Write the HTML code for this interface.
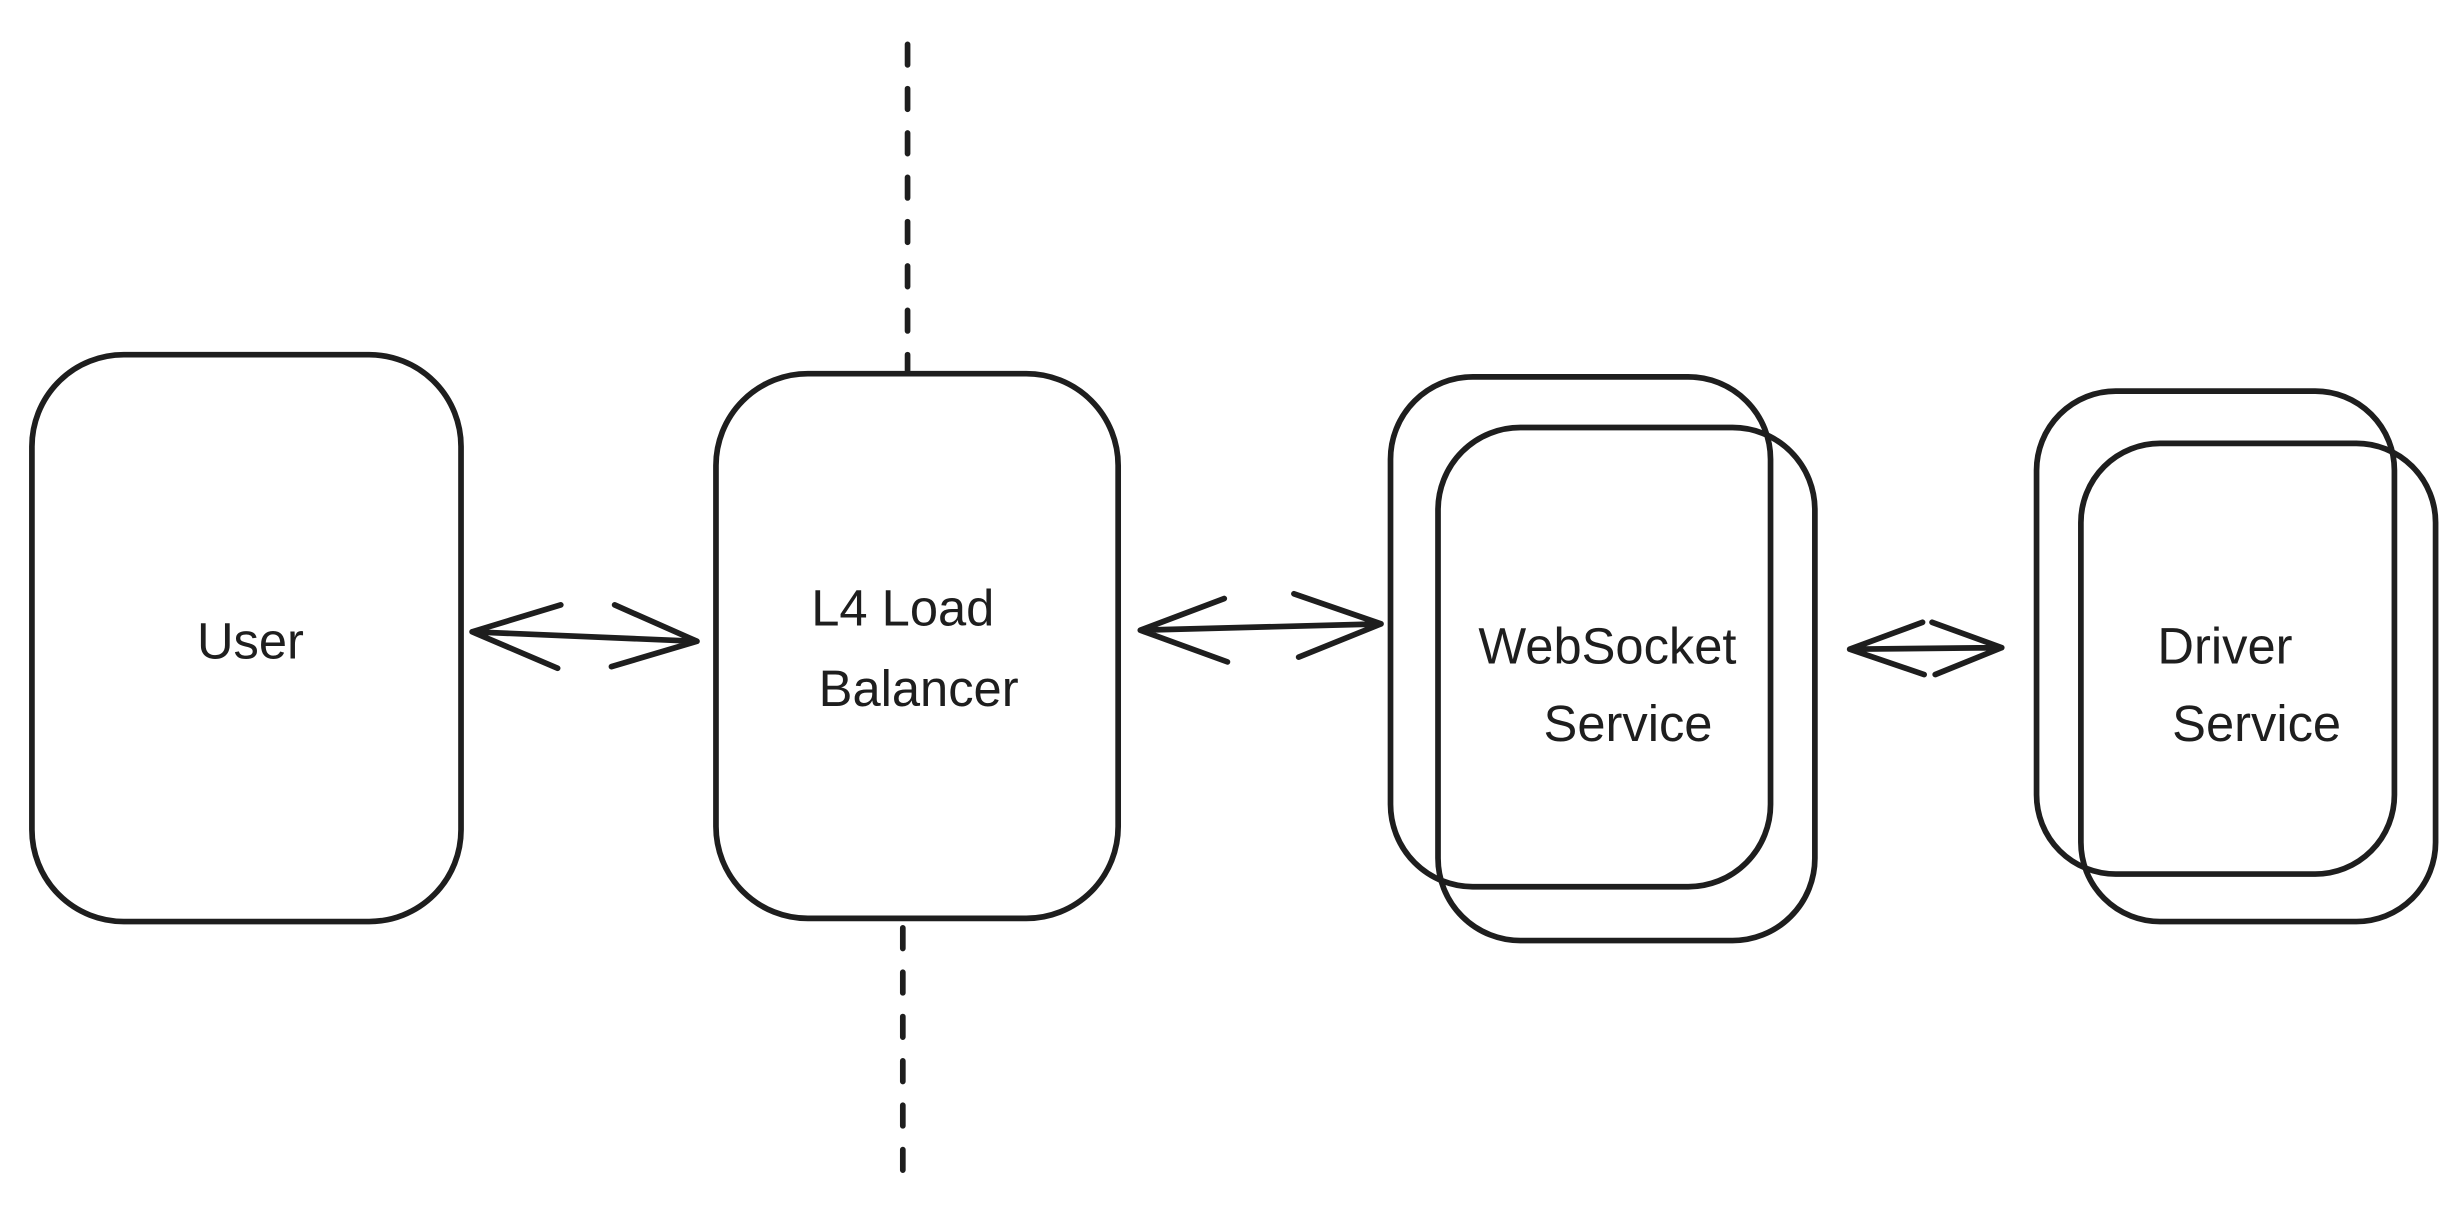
<!DOCTYPE html>
<html><head><meta charset="utf-8"><style>
html,body{margin:0;padding:0;background:#fff;}
svg{display:block;}
text{font-family:"Liberation Sans",sans-serif;font-size:32px;fill:#1e1e1e;text-anchor:middle;}
</style></head><body>
<svg width="2458" height="1224" viewBox="0 0 1552 773" xmlns="http://www.w3.org/2000/svg">
<g fill="none" stroke="#1e1e1e" stroke-width="3.6" stroke-linecap="round" stroke-linejoin="round">
<line x1="573" y1="28" x2="573" y2="234" stroke-dasharray="13,15"/>
<line x1="570" y1="586" x2="570" y2="752" stroke-dasharray="13,15"/>
<rect x="20" y="224" width="271" height="358" rx="58"/>
<rect x="452" y="236" width="254" height="344" rx="58"/>
<rect x="878" y="238" width="240" height="322" rx="52"/>
<rect x="908" y="270" width="238" height="324" rx="52"/>
<rect x="1286" y="247" width="226" height="305" rx="50"/>
<rect x="1314" y="280" width="224" height="302" rx="50"/>
<path d="M298 399 L440 405 M298 399 L354 382 M298 399 L352 422 M440 405 L388 382 M440 405 L386 421"/>
<path d="M720 398 L872 394 M720 398 L773 378 M720 398 L775 418 M872 394 L817 375 M872 394 L820 415"/>
<path d="M1168 410 L1264 409 M1168 410 L1214 393 M1168 410 L1215 426 M1264 409 L1220 393 M1264 409 L1222 426"/>
</g>
<text x="158" y="416">User</text>
<text x="570" y="395">L4 Load</text>
<text x="580" y="446">Balancer</text>
<text x="1015" y="419">WebSocket</text>
<text x="1028" y="468">Service</text>
<text x="1405" y="419">Driver</text>
<text x="1425" y="468">Service</text>
</svg>
</body></html>
